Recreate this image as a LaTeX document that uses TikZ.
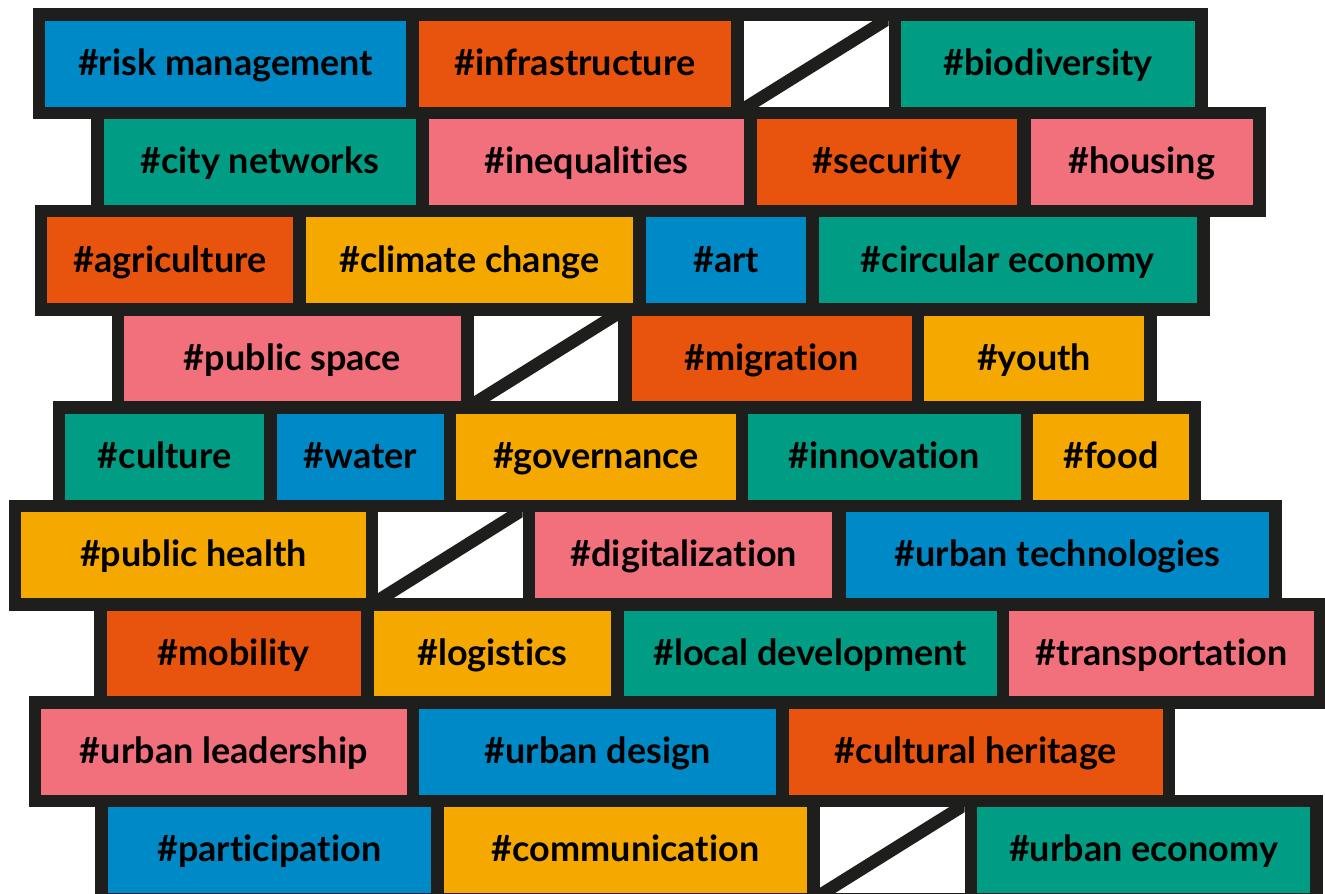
\documentclass[tikz,border=0pt]{standalone}
\usepackage{fontspec}
\setmainfont{Lato}[Ligatures={NoCommon,NoRare,NoDiscretionary}]
\definecolor{cblue}{RGB}{0,137,199}
\definecolor{corange}{RGB}{232,84,14}
\definecolor{cteal}{RGB}{0,156,131}
\definecolor{cpink}{RGB}{242,112,124}
\definecolor{cyellow}{RGB}{245,168,0}
\definecolor{cblack}{RGB}{30,30,28}
\tikzset{
  cellbox/.style={rectangle, inner sep=0pt, outer sep=0pt, minimum height=85.8pt,
    text height=23.6pt, text depth=0pt, text=black,
    font=\fontsize{36}{40}\selectfont\bfseries},
  frame/.style={fill=cblack},
  diag/.style={draw=cblack, line width=12.5pt}
}
\newcommand\band[3]{%
  \pgfmathsetmacro\bandtop{20.7+98.3*(#1-1)-12.5}%
  \pgfmathsetmacro\bandbot{\bandtop+110.8}%
  \fill[frame] (#2-12.5,\bandtop) rectangle (#3+12.5,\bandbot);}
\newcommand\brick[6]{%
  \pgfmathsetmacro\bricktop{20.7+98.3*(#4-1)}%
  \pgfmathsetmacro\brickx{(#2+#3)/2}%
  \pgfmathsetmacro\bricky{\bricktop+42.9}%
  \pgfmathsetmacro\brickw{#3-#2}%
  \node[cellbox, fill=#5, minimum width=\brickw pt] (#1) at (\brickx,\bricky) {#6};}
\newcommand\diagcell[4]{%
  \brick{#1}{#2}{#3}{#4}{white}{}%
  \begin{scope}
    \clip (#1.south west) rectangle (#1.north east);
    \draw[diag] ([shift={(-6.25,6.25)}]#1.south west) -- ([shift={(6.25,-6.25)}]#1.north east);
  \end{scope}}
\begin{document}
\begin{tikzpicture}[x=1pt,y=-1pt]
\useasboundingbox (0,0) rectangle (1325,894);
\clip (0,0) rectangle (1325,894);
% black bands
\band{1}{45}{1195}
\band{2}{103.8}{1253.4}
\band{3}{47.3}{1197}
\band{4}{124}{1144}
\band{5}{65.4}{1188.8}
\band{6}{21.1}{1269.2}
\band{7}{106.8}{1314.4}
\band{8}{41}{1162.6}
\band{9}{107.6}{1310}
% row 1
\brick{risk}{45}{406}{1}{cblue}{\#risk management}
\brick{infra}{419}{731}{1}{corange}{\#infrastructure}
\diagcell{w1}{743.5}{888.7}{1}
\brick{bio}{901}{1195}{1}{cteal}{\#biodiversity}
% row 2
\brick{city}{103.8}{416}{2}{cteal}{\#city networks}
\brick{ineq}{429}{743.5}{2}{cpink}{\#inequalities}
\brick{sec}{757}{1017.4}{2}{corange}{\#security}
\brick{hous}{1030.5}{1253.4}{2}{cpink}{\#housing}
% row 3
\brick{agri}{47.3}{293}{3}{corange}{\#agriculture}
\brick{clim}{305.6}{633}{3}{cyellow}{\#climate change}
\brick{art}{645.8}{806.4}{3}{cblue}{\#art}
\brick{circ}{818.6}{1197}{3}{cteal}{\#circular economy}
% row 4
\brick{pubsp}{124}{461}{4}{cpink}{\#public space}
\diagcell{w4}{473.6}{618.4}{4}
\brick{migr}{631.5}{911.5}{4}{corange}{\#migration}
\brick{youth}{924}{1144}{4}{cyellow}{\#youth}
% row 5
\brick{cult}{65.4}{263.8}{5}{cteal}{\#culture}
\brick{water}{276.5}{444}{5}{cblue}{\#water}
\brick{gov}{456.3}{735.6}{5}{cyellow}{\#governance}
\brick{innov}{747.8}{1020.6}{5}{cteal}{\#innovation}
\brick{food}{1032.8}{1188.8}{5}{cyellow}{\#food}
% row 6
\brick{pubh}{21.1}{365.6}{6}{cyellow}{\#public health}
\diagcell{w6}{378.2}{522.6}{6}
\brick{digi}{535.2}{832.4}{6}{cpink}{\#digitalization}
\brick{utech}{846}{1269.2}{6}{cblue}{\#urban technologies}
% row 7
\brick{mob}{106.8}{360.5}{7}{corange}{\#mobility}
\brick{logi}{373.6}{610.8}{7}{cyellow}{\#logistics}
\brick{local}{623.9}{996.5}{7}{cteal}{\#local development}
\brick{trans}{1008.7}{1314.4}{7}{cpink}{\#transportation}
% row 8
\brick{ulead}{41}{406.5}{8}{cpink}{\#urban leadership}
\brick{udes}{419}{776.2}{8}{cblue}{\#urban design}
\brick{cher}{789.3}{1162.6}{8}{corange}{\#cultural heritage}
% row 9
\brick{part}{107.6}{431}{9}{cblue}{\#participation}
\brick{comm}{444}{807}{9}{cyellow}{\#communication}
\diagcell{w9}{819.7}{964.7}{9}
\brick{uecon}{977}{1310}{9}{cteal}{\#urban economy}
\end{tikzpicture}
\end{document}
